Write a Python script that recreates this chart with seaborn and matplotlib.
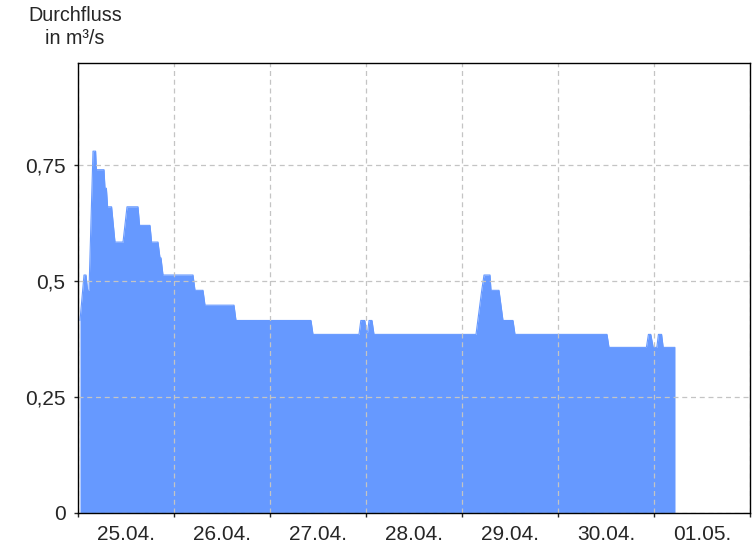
"""Durchfluss hydrograph, 25.04. - 01.05."""

import matplotlib
matplotlib.use("Agg")
import matplotlib.pyplot as plt
import matplotlib.dates as mdates
from matplotlib.ticker import FuncFormatter
import pandas as pd
import seaborn as sns

# hours after 25.04. 00:00 and discharge in m³/s
hours = [0.5, 1.5, 2.0, 2.4, 2.75, 3.75, 4.4, 4.6, 6.5, 6.75, 7.1, 7.4, 8.4,
         9.25, 11.25, 12.25, 15.0, 15.4, 18.0, 18.4, 20.0, 20.5, 20.75, 21.25,
         28.75, 29.25, 31.25, 31.75, 39.0, 39.5, 58.25, 58.75, 70.25, 70.7,
         71.7, 72.1, 72.4, 72.75, 73.5, 74.0, 99.5, 100.9, 101.5, 103.0,
         103.25, 105.25, 106.25, 108.75, 109.25, 132.25, 132.75, 142.1, 142.6,
         143.2, 143.8, 144.7, 145.1, 145.9, 146.3, 149.25]
flow = [0.415, 0.513, 0.513, 0.48, 0.48, 0.78, 0.78, 0.74, 0.74, 0.70, 0.70,
        0.66, 0.66, 0.584, 0.584, 0.66, 0.66, 0.62, 0.62, 0.584, 0.584, 0.55,
        0.55, 0.513, 0.513, 0.48, 0.48, 0.448, 0.448, 0.415, 0.415, 0.385,
        0.385, 0.415, 0.415, 0.39, 0.39, 0.415, 0.415, 0.385, 0.385, 0.478,
        0.513, 0.513, 0.48, 0.48, 0.415, 0.415, 0.385, 0.385, 0.357, 0.357,
        0.385, 0.385, 0.357, 0.357, 0.385, 0.385, 0.357, 0.357]

start = pd.Timestamp("2024-04-25 00:00")
end = pd.Timestamp("2024-05-02 00:00")
df = pd.DataFrame({"time": start + pd.to_timedelta(hours, unit="h"), "flow": flow})

sns.set_style("white")
plt.rcParams["font.family"] = ["Liberation Sans", "DejaVu Sans"]

color = "#6699ff"
fig = plt.figure(figsize=(7.56, 5.46), dpi=100)
ax = fig.add_axes([78 / 756, 33 / 546, 672 / 756, 450 / 546])

ax.fill_between(df["time"], df["flow"], 0, color=color, linewidth=0, zorder=1)
sns.lineplot(data=df, x="time", y="flow", ax=ax, color=color, linewidth=0.8, zorder=1)

ax.set_xlim(start, end)
ax.set_ylim(0, 0.97)

# midnight: ticks + grid, noon: date labels
ax.xaxis.set_major_locator(mdates.DayLocator())
ax.xaxis.set_major_formatter(plt.NullFormatter())
ax.xaxis.set_minor_locator(mdates.HourLocator(byhour=[12]))
ax.xaxis.set_minor_formatter(mdates.DateFormatter("%d.%m."))
ax.tick_params(axis="x", which="major", length=3, width=1, direction="out", bottom=True)
ax.tick_params(axis="x", which="minor", length=0, pad=9, labelsize=15)

ax.set_yticks([0, 0.25, 0.5, 0.75])
ax.yaxis.set_major_formatter(FuncFormatter(lambda v, _: f"{v:g}".replace(".", ",")))
ax.tick_params(axis="y", length=3, width=1, direction="out", left=True, pad=6, labelsize=15)

ax.grid(True, which="major", color="#c4c4c4", linestyle=(0, (4, 3)), linewidth=0.9)
ax.set_axisbelow(False)
for s in ax.spines.values():
    s.set_color("black")
    s.set_linewidth(1)
    s.set_zorder(3)
ax.set_xlabel("")
ax.set_ylabel("")

fig.text(75 / 756, 1 - 6 / 546, "Durchfluss\nin m³/s", ha="center", va="top",
         fontsize=14.2, linespacing=1.25)

fig.savefig("out.png", dpi=100)
